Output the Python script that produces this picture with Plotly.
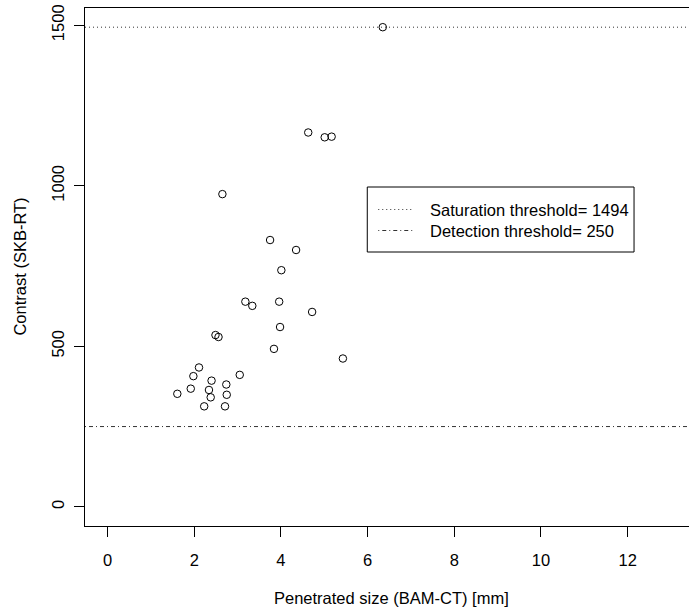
import plotly.graph_objects as go

# Penetrated size (BAM-CT) vs. contrast (SKB-RT) measurements
size_mm = [6.35, 4.63, 5.01, 5.17, 2.65, 3.75, 4.35, 4.01, 3.18, 3.34,
           3.96, 3.98, 3.84, 4.72, 5.43, 2.49, 2.56, 2.11, 1.98, 2.40,
           2.74, 3.05, 1.92, 1.61, 2.34, 2.38, 2.75, 2.23, 2.71]
contrast = [1494, 1166, 1151, 1153, 974, 831, 800, 737, 639, 626,
            639, 560, 492, 607, 462, 535, 529, 434, 407, 393,
            381, 411, 368, 352, 364, 341, 349, 313, 313]

saturation_threshold = 1494
detection_threshold = 250

x_ticks = [0, 2, 4, 6, 8, 10, 12]
y_ticks = [0, 500, 1000, 1500]

W, H = 689, 613
ML, MR, MT, MB = 84.5, 0, 8, 87
PW, PH = W - ML - MR, H - MT - MB
FONT = "Liberation Sans, Arial, Helvetica, sans-serif"
FS = 16.5


def px(x):
    return (x - ML) / PW


def py(y):
    return (H - MB - y) / PH


fig = go.Figure()
fig.add_trace(go.Scatter(
    x=size_mm, y=contrast, mode="markers",
    marker=dict(symbol="circle-open", size=7.5, color="black",
                line=dict(width=1, color="black")),
    showlegend=False, hoverinfo="x+y",
))

sat_dash = "1px,3px"
det_dash = "1px,3px,4px,3px"

shapes = [
    dict(type="line", xref="paper", x0=0, x1=1, yref="y",
         y0=saturation_threshold, y1=saturation_threshold,
         line=dict(color="#333", width=1, dash=sat_dash)),
    dict(type="line", xref="paper", x0=0, x1=1, yref="y",
         y0=detection_threshold, y1=detection_threshold,
         line=dict(color="#333", width=1, dash=det_dash)),
    # legend frame
    dict(type="rect", xref="paper", yref="paper",
         x0=px(367), x1=px(634), y0=py(187), y1=py(252),
         line=dict(color="black", width=1), fillcolor="white"),
    dict(type="line", xref="paper", yref="paper",
         x0=px(378), x1=px(412), y0=py(209.5), y1=py(209.5),
         line=dict(color="#333", width=1, dash=sat_dash)),
    dict(type="line", xref="paper", yref="paper",
         x0=px(378), x1=px(412), y0=py(230.5), y1=py(230.5),
         line=dict(color="#333", width=1, dash=det_dash)),
]

annotations = [
    dict(text=f"Saturation threshold= {saturation_threshold}",
         xref="paper", yref="paper", x=px(427.5), y=py(209.5),
         xanchor="left", yanchor="middle", showarrow=False,
         font=dict(family=FONT, size=FS, color="black")),
    dict(text=f"Detection threshold= {detection_threshold}",
         xref="paper", yref="paper", x=px(427.5), y=py(230.5),
         xanchor="left", yanchor="middle", showarrow=False,
         font=dict(family=FONT, size=FS, color="black")),
    dict(text="Penetrated size (BAM-CT) [mm]",
         xref="paper", yref="paper", x=px(391), y=py(598),
         xanchor="center", yanchor="middle", showarrow=False,
         font=dict(family=FONT, size=FS, color="black")),
    dict(text="Contrast (SKB-RT)",
         xref="paper", yref="paper", x=px(19), y=py(267),
         xanchor="center", yanchor="middle", showarrow=False, textangle=-90,
         font=dict(family=FONT, size=FS, color="black")),
]

fig.update_layout(
    width=W, height=H,
    margin=dict(l=ML, r=MR, t=MT, b=MB, pad=0),
    paper_bgcolor="white", plot_bgcolor="white",
    font=dict(family=FONT, size=FS, color="black"),
    shapes=shapes, annotations=annotations,
    showlegend=False,
    xaxis=dict(range=[-0.52, 13.415], tickvals=x_ticks,
               ticks="outside", ticklen=10, tickwidth=1, tickcolor="black",
               showline=True, linecolor="black", linewidth=1, mirror=True,
               showgrid=False, zeroline=False, ticklabelstandoff=9),
    yaxis=dict(range=[-59.76, 1553.76], tickvals=y_ticks, tickangle=-90,
               ticks="outside", ticklen=10, tickwidth=1, tickcolor="black",
               showline=True, linecolor="black", linewidth=1, mirror=False,
               showgrid=False, zeroline=False, ticklabelstandoff=3),
)

fig.write_html("out.html")
